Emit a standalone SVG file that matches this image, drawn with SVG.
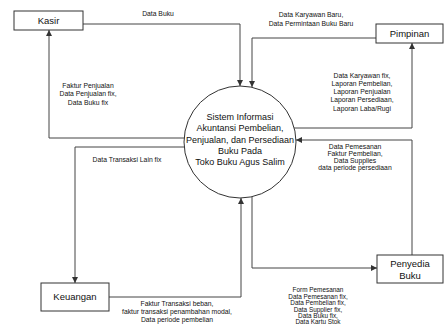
<svg xmlns="http://www.w3.org/2000/svg" width="445" height="325" viewBox="0 0 445 325">
<style>
.box{fill:#fff;stroke:#333;stroke-width:1}
.ln{fill:none;stroke:#444;stroke-width:1;marker-end:url(#ah)}
.nt{font-family:"Liberation Sans",Arial,sans-serif;font-size:9.5px;fill:#111;text-anchor:middle}
.pt{font-family:"Liberation Sans",Arial,sans-serif;font-size:9px;fill:#111;text-anchor:middle}
.lb{font-family:"Liberation Sans",Arial,sans-serif;font-size:6.8px;fill:#111;text-anchor:middle}
.lb2{font-family:"Liberation Sans",Arial,sans-serif;font-size:6.4px;fill:#111;text-anchor:middle}
</style>
<defs>
<marker id="ah" viewBox="0 0 10 10" refX="10" refY="5" markerWidth="6" markerHeight="6" markerUnits="userSpaceOnUse" orient="auto">
<path d="M0,0 L10,5 L0,10 z" fill="#333"/>
</marker>
</defs>
<rect width="445" height="325" fill="#fff"/>
<g id="connectors">
<path class="ln" d="M83,24 H240 V86"/>
<path class="ln" d="M376,38 H252 V87"/>
<path class="ln" d="M185,138 H49 V30"/>
<path class="ln" d="M184,147 H75 V283"/>
<path class="ln" d="M109,297 H241 V198"/>
<path class="ln" d="M252,197 V268 H377"/>
<path class="ln" d="M412,255 V140 H296"/>
<path class="ln" d="M294,128 H412 V43"/>
<text class="lb" x="158" y="16">Data Buku</text>
<text class="lb" x="311" y="17">Data Karyawan Baru,</text>
<text class="lb" x="311" y="26">Data Permintaan Buku Baru</text>
<text class="lb" x="88" y="88">Faktur Penjualan</text>
<text class="lb" x="88" y="96">Data Penjualan fix,</text>
<text class="lb" x="88" y="105">Data Buku fix</text>
<text class="lb" x="127" y="162">Data Transaksi Lain fix</text>
<text class="lb" x="177" y="306">Faktur Transaksi beban,</text>
<text class="lb" x="177" y="314">faktur transaksi penambahan modal,</text>
<text class="lb" x="177" y="322">Data periode pembelian</text>
<text class="lb2" x="318" y="292">Form Pemesanan</text>
<text class="lb2" x="318" y="298.5">Data Pemesanan fix,</text>
<text class="lb2" x="318" y="305">Data Pembelian fix,</text>
<text class="lb2" x="318" y="311.5">Data Supplier fix,</text>
<text class="lb2" x="318" y="318">Data Buku fix,</text>
<text class="lb2" x="318" y="323.5">Data Kartu Stok</text>
<text class="lb" x="355" y="149">Data Pemesanan</text>
<text class="lb" x="355" y="156">Faktur Pembelian,</text>
<text class="lb" x="355" y="163">Data Supplies</text>
<text class="lb" x="355" y="170">data periode persediaan</text>
<text class="lb" x="362" y="78">Data Karyawan fix,</text>
<text class="lb" x="362" y="86">Laporan Pembelian,</text>
<text class="lb" x="362" y="94">Laporan Penjualan</text>
<text class="lb" x="362" y="102">Laporan Persediaan,</text>
<text class="lb" x="362" y="111">Laporan Laba/Rugi</text>
</g>
<g id="kasir">
<rect class="box" x="14" y="11" width="69" height="19"/>
<text class="nt" x="48.5" y="24">Kasir</text>
</g>
<g id="pimpinan">
<rect class="box" x="376" y="24" width="67" height="19"/>
<text class="nt" x="409.5" y="37">Pimpinan</text>
</g>
<g id="keuangan">
<rect class="box" x="41" y="283" width="68" height="28"/>
<text class="nt" x="75" y="300">Keuangan</text>
</g>
<g id="penyedia">
<rect class="box" x="377" y="255" width="66" height="28"/>
<text class="nt" x="410" y="267">Penyedia</text>
<text class="nt" x="410" y="279">Buku</text>
</g>
<g id="sistem">
<circle cx="240" cy="142" r="56" fill="#fff" stroke="#333" stroke-width="1"/>
<text class="pt" x="240" y="120">Sistem Informasi</text>
<text class="pt" x="240" y="131">Akuntansi Pembelian,</text>
<text class="pt" x="240" y="143">Penjualan, dan Persediaan</text>
<text class="pt" x="240" y="154">Buku Pada</text>
<text class="pt" x="240" y="165">Toko Buku Agus Salim</text>
</g>
</svg>
